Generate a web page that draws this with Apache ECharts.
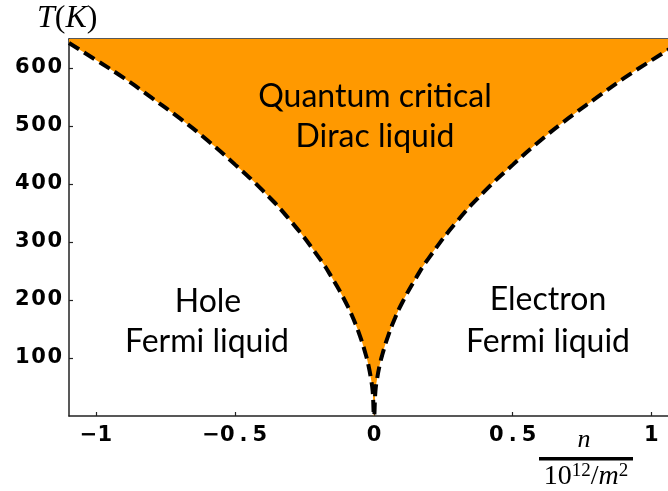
<!DOCTYPE html>
<html>
<head>
<meta charset="utf-8">
<script src="https://cdn.jsdelivr.net/npm/echarts@6/dist/echarts.min.js"></script>
<style>html,body{margin:0;padding:0;background:#fff}#c{width:668px;height:491px}</style>
</head>
<body>
<div id="c"></div>
<script>
// Boundary curve: density n (10^12/m^2) vs T (K)
const densityN = [-1.1,-1.0,-0.9,-0.8,-0.7,-0.6,-0.5,-0.4,-0.3,-0.2,-0.15,-0.1,-0.075,-0.05,-0.03,-0.02,-0.01,-0.005,0,0.005,0.01,0.02,0.03,0.05,0.075,0.1,0.15,0.2,0.3,0.4,0.5,0.6,0.7,0.8,0.9,1.0,1.1];
const temperatureT = [643,613,582,548,513,475,433,388,336,274,237,194,168,137,106,87,61,43,0,43,61,87,106,137,168,194,237,274,336,388,433,475,513,548,582,613,643];
const xTicks = [-1,-0.5,0,0.5,1];
const yTicks = [100,200,300,400,500,600];

const chart = echarts.init(document.getElementById('c'));
// each character in its own fixed-width box (wide monospaced look)
const spaced = s => s.split('').map(ch => '{d|' + ch + '}').join('');
const fmtX = v => spaced(v < 0 ? '\u2212' + String(-v) : String(v));
const fmtY = v => spaced(String(v));
const richTick = {d:{fontFamily:'DejaVu Sans', fontWeight:'bold', fontSize:21, color:'#000', width:16.3, align:'center'}};
const axisLine = {show:true, onZero:false, lineStyle:{color:'#222', width:1.5}};
const tickStyle = {color:'#222', width:1.2};
const TXT = 'normal 32px Lato';
const labelBase = {fontFamily:'DejaVu Sans', fontWeight:'bold', fontSize:21, color:'#000', rich:richTick};
chart.setOption({
  animation:false,
  grid:{left:69, top:39, right:0, bottom:75},
  xAxis:[{
    type:'value', min:-1.1, max:1.06,
    axisLine:axisLine, splitLine:{show:false},
    axisTick:{show:true, inside:true, length:4, customValues:xTicks, lineStyle:tickStyle},
    axisLabel:Object.assign({customValues:xTicks, margin:9, formatter:fmtX}, labelBase)
  },{
    type:'value', position:'top', min:-1.1, max:1.06,
    axisLine:axisLine, splitLine:{show:false},
    axisTick:{show:true, inside:true, length:4, customValues:xTicks, lineStyle:tickStyle},
    axisLabel:{show:false}
  }],
  yAxis:{
    type:'value', min:0, max:650,
    axisLine:axisLine, splitLine:{show:false},
    axisTick:{show:true, inside:true, length:4, customValues:yTicks, lineStyle:tickStyle},
    axisLabel:Object.assign({customValues:yTicks, margin:6, formatter:fmtY}, labelBase)
  },
  series:[{
    type:'line', xAxisIndex:0,
    data: densityN.map((n,i)=>[n, temperatureT[i]]),
    smooth:true, symbol:'none',
    lineStyle:{color:'#000', width:4, type:[12,6]},
    areaStyle:{color:'#FF9900', opacity:1, origin:'end'}
  }],
  graphic:[
    {type:'text', z:100, x:375, y:97, style:{text:'Quantum critical', font:TXT, fill:'#000', align:'center', verticalAlign:'middle'}},
    {type:'text', z:100, x:375, y:137, style:{text:'Dirac liquid', font:TXT, fill:'#000', align:'center', verticalAlign:'middle'}},
    {type:'text', z:100, x:208, y:302, style:{text:'Hole', font:TXT, fill:'#000', align:'center', verticalAlign:'middle'}},
    {type:'text', z:100, x:207, y:342, style:{text:'Fermi liquid', font:TXT, fill:'#000', align:'center', verticalAlign:'middle'}},
    {type:'text', z:100, x:548, y:300, style:{text:'Electron', font:TXT, fill:'#000', align:'center', verticalAlign:'middle'}},
    {type:'text', z:100, x:548, y:342, style:{text:'Fermi liquid', font:TXT, fill:'#000', align:'center', verticalAlign:'middle'}},
    {type:'text', z:100, x:37, y:19, style:{text:'{i|T}{r|(}{i|K}{r|)}', verticalAlign:'middle',
      rich:{i:{fontFamily:'Liberation Serif', fontStyle:'italic', fontSize:32, fill:'#000'}, r:{fontFamily:'Liberation Serif', fontSize:32, fill:'#000'}}}},
    {type:'text', z:100, x:584, y:440, style:{text:'n', font:'italic 26px Liberation Serif', fill:'#000', align:'center', verticalAlign:'middle'}},
    {type:'rect', z:100, shape:{x:539, y:457, width:94, height:3.5}, style:{fill:'#000'}},
    {type:'text', z:100, x:586, y:477, style:{text:'{r|10}{s|12}{r|/}{i|m}{s|2}', align:'center', verticalAlign:'middle',
      rich:{r:{fontFamily:'Liberation Serif', fontSize:28, fill:'#000'}, i:{fontFamily:'Liberation Serif', fontStyle:'italic', fontSize:28, fill:'#000'}, s:{fontFamily:'Liberation Serif', fontSize:19, fill:'#000', verticalAlign:'top', padding:[0,0,11,0]}}}}
  ]
});
</script>
</body>
</html>
